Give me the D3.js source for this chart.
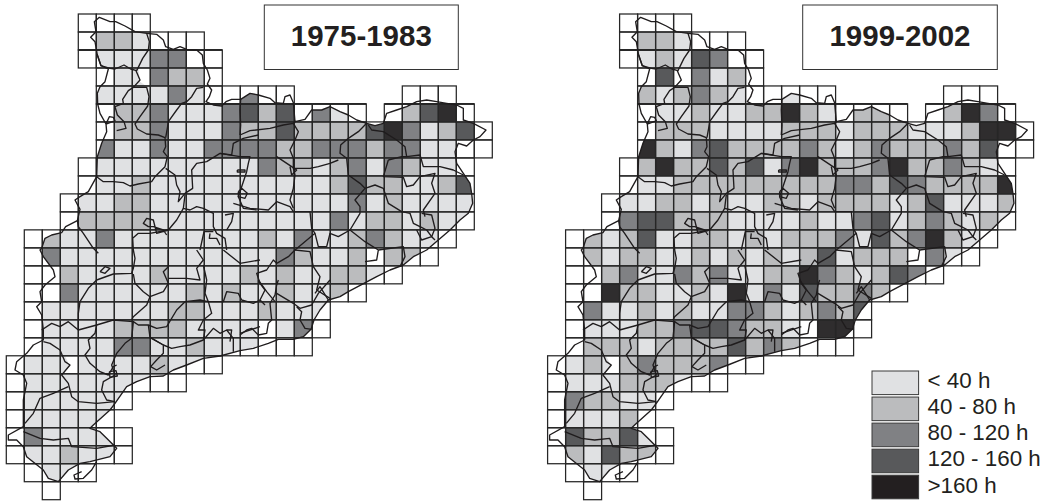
<!DOCTYPE html>
<html><head><meta charset="utf-8">
<style>html,body{margin:0;padding:0;background:#fff}svg{display:block}text{font-family:"Liberation Sans",Arial,sans-serif;fill:#231f20}</style>
<script src="https://cdnjs.cloudflare.com/ajax/libs/d3/7.8.5/d3.min.js"></script>
</head><body><svg id="c" width="1053" height="502"></svg>
<script>
const legendLabels=["< 40 h","40 - 80 h","80 - 120 h","120 - 160 h",">160 h"];
const classColors=["#ffffff","#e0e1e3","#bbbcbe","#808184","#58595b","#2f2d2e"];
const legendColors=["#e0e1e3","#bbbcbe","#808184","#58595b","#231f20"];
const titles=["1975-1983","1999-2002"];
const heavyRows=[2,5];
// grid rows: [first column, class per cell] ('.' = no cell, 0 = no data)
const rows1975=[[4,"0000"],[4,"0221000"],[4,"01113300"],[5,"0113220"],[5,"11113100300......000"],[5,"022311134240310.02450"],[5,"0223111322422224531240"],[5,"3113113333223332331100"],[4,"0111111111322123132110"],[4,"0112111111111124221124"],[3,"01122111111111113121111"],[3,"02222111111111131221211"],[1,"021131111111121311232110"],[1,"03111111111111321120220"],[1,"002111121111212112210"],[1,"0031111112121121120"],[1,"01111111221112111"],[1,"01111222211110130"],[1,"0111133112111000"],[0,"011111112110"],[0,"0111111100"],[0,"0111111"],[0,"011111"],[0,"0311110"],[0,"0112110"],[1,"0111"],[2,"0"]];
const rows1999=[[4,"0000"],[4,"0221000"],[4,"01214300"],[5,"0403120"],[5,"21232100100......000"],[5,"011211225210220.02530"],[5,"0222111122212221112550"],[5,"5213422223212322232400"],[4,"0252242413522235223210"],[4,"0112222222223324322225"],[3,"01122121122122221241112"],[3,"03442221111211341232121"],[1,"021241122121222314235210"],[1,"02122112121212412220310"],[1,"002311323112253212430"],[1,"0052211215131422320"],[1,"03112121133212324"],[1,"01112234432210550"],[1,"0222122224232000"],[0,"012123222300"],[0,"0111222100"],[0,"0322110"],[0,"011120"],[0,"0422410"],[0,"0214220"],[1,"0110"],[2,"0"]];
// boundaries traced in sheets (units: third of a pixel; each sheet has an origin)
const sheetNW=[0,0], sheetNE=[750,180], sheetS=[0,750], sheetSE=[720,840];
const coastNW=[[125,745],[135,715],[155,705],[185,698],[197,680],[232,662],[240,628],[225,600],[240,590],[265,575],[290,530],[292,470],[305,430],[320,395],[318,372],[300,340],[293,312],[292,280],[300,260],[315,245],[325,207],[303,197],[292,165],[285,125],[272,112],[288,95],[283,65],[298,52],[330,65],[347,65],[375,78],[405,95],[440,100],[470,103],[490,120],[497,140],[520,148],[540,140],[560,148],[590,150],[607,165],[610,190],[622,210],[630,235],[622,252],[635,270],[628,290],[618,305],[640,315],[665,318],[678,305],[695,298],[722,298]];
const coastNE=[[0,100],[25,105],[60,115],[75,128],[100,130],[105,110],[120,105],[130,128],[135,185],[165,178],[185,150],[215,150],[240,140],[270,155],[295,165],[320,180],[350,190],[375,197],[400,190],[410,160],[440,150],[470,140],[500,125],[530,120],[560,125],[590,130],[620,135],[640,145],[640,180],[670,190],[708,210],[690,230],[670,240],[650,258],[625,250],[615,275],[620,310],[640,340],[660,370],[665,400],[668,430],[655,460],[630,480],[600,510],[565,540],[530,570],[490,590],[460,615],[420,630],[380,650]];
const coastSE=[[325,35],[300,50],[265,60],[240,90],[222,120],[213,148],[190,170],[160,178],[115,178],[85,190],[40,205],[0,212]];
const coastS=[[660,318],[610,325],[560,345],[520,360],[490,378],[450,380],[410,395],[380,410],[345,460],[330,480],[280,525],[270,535],[300,545],[320,565],[350,595],[330,620],[270,635],[240,640],[205,660],[175,695],[145,685],[130,660],[80,620],[70,590],[50,570],[25,570],[25,555],[70,530],[70,500],[70,450],[80,400],[70,375],[45,360],[50,335],[80,310],[100,285],[130,270],[130,240],[125,195],[110,170],[125,155],[120,125],[135,105],[165,80],[160,60],[130,20],[120,0]];
const holesNW=[[[415,204],[451,204],[451,259],[440,259],[420,245]]];
const holesS=[[[195,318],[235,318],[235,371],[185,371],[208,345]]];
const linesNW=[
[[292,165],[303,197],[330,205],[345,207],[372,195],[392,207],[410,212],[428,175],[445,150],[448,125],[440,100]],
[[408,212],[420,240],[400,262],[385,272],[368,298],[370,310],[345,320],[352,345],[372,365],[378,385],[350,392]],
[[318,372],[328,350],[340,352],[345,362],[330,368],[318,372]],
[[400,262],[440,262],[447,290],[443,318],[420,350],[405,372],[412,387],[440,402],[475,405],[495,413],[497,440],[490,455],[502,470],[495,500],[465,530],[455,545],[415,552],[390,558],[370,548],[340,545],[310,545],[290,530]],
[[610,262],[590,265],[575,290],[560,305],[545,310],[530,330],[505,365],[502,385],[497,413]],
[[497,505],[525,525],[530,555],[540,575],[535,605],[555,580],[578,565],[575,510],[590,490],[620,485],[660,460],[695,465],[700,430],[730,415],[775,405]],
[[722,298],[720,330],[722,375],[720,405]],
[[660,460],[720,470],[750,470],[745,490],[740,515],[735,530],[725,560],[715,590],[730,625],[770,630]],
[[712,510],[735,510],[735,516],[712,516],[712,510]],
[[715,575],[725,565],[742,580],[735,595],[715,590],[715,575]],
[[555,585],[550,625],[570,630],[590,620],[610,625],[640,640],[640,680],[650,700],[675,715],[680,750]],
[[675,645],[700,640],[695,665],[680,690]],
[[550,625],[530,660],[505,690],[470,700],[460,660],[440,655],[430,670],[445,680],[460,680],[490,690],[500,705]],
[[505,690],[450,700],[415,700],[398,715],[400,750]],
[[232,662],[235,680],[250,700],[280,745],[295,760]],
[[630,700],[628,715],[650,715],[660,735]],
[[600,750],[612,695],[640,695]]];
const linesNE=[
[[-30,225],[0,212],[60,205],[100,195],[130,190],[145,215],[135,240],[120,270],[130,295],[130,325],[135,345],[130,385],[120,420],[130,445]],
[[135,185],[130,190]],
[[135,325],[180,325],[205,320],[240,310],[265,300]],
[[350,190],[325,215],[295,235],[272,255],[270,280],[290,295],[295,345],[330,370],[345,385],[375,375],[400,385],[405,400],[415,430],[455,455],[480,460],[490,490],[510,500],[530,510],[545,530],[555,540]],
[[345,385],[315,420],[330,440],[330,460],[300,510],[345,545],[385,570],[380,600],[345,605]],
[[300,510],[265,530],[240,520],[230,560],[205,560],[195,520],[185,505],[180,455],[130,455],[120,440],[80,425],[55,450],[0,445],[-50,430]],
[[195,520],[135,570],[115,590],[80,610],[70,600],[50,630],[20,640],[30,670],[45,690],[30,720],[45,735]],
[[135,570],[180,575],[190,620],[210,650],[200,690],[240,715]],
[[415,300],[400,350],[460,352],[470,380],[490,375],[510,350],[555,340],[545,370],[555,400],[520,450],[525,470]],
[[355,195],[365,210],[400,215],[440,240],[465,260],[470,290],[510,285],[520,320],[570,320],[610,330],[640,345]],
[[415,300],[455,290],[470,290]],
[[515,460],[545,465],[555,505],[545,530],[515,540],[500,510]],
[[385,570],[460,560],[465,590],[450,620]],
[[80,290],[125,320],[140,330],[125,345],[120,320]]];
const linesS=[
[[290,90],[340,72],[395,70],[400,55],[405,25],[400,0]],
[[300,65],[315,50],[330,55],[315,70],[300,65]],
[[400,72],[405,100],[430,125],[450,140],[440,165],[400,200],[395,210]],
[[290,90],[265,115],[240,155],[235,190],[235,240]],
[[125,240],[155,220],[180,230],[205,215],[235,240],[290,225],[340,210],[400,215],[415,225],[445,225],[470,235],[500,230],[530,180],[555,155],[600,150],[625,155],[670,155],[680,125],[715,130],[725,150],[760,160],[780,150]],
[[290,225],[285,250],[265,270],[270,295],[255,315],[270,340],[300,365],[325,375],[340,350],[350,345]],
[[400,215],[395,265],[375,280],[350,310],[335,345],[345,375],[310,395],[305,420],[320,450],[345,455]],
[[328,365],[348,362],[352,378],[330,382],[328,365]],
[[130,275],[150,280],[180,300],[195,335],[210,345],[185,375],[205,400],[215,440],[235,455],[290,460],[345,455]],
[[75,520],[100,490],[120,445],[160,430],[205,410]],
[[70,545],[120,565],[160,570],[205,565],[215,590],[290,595],[345,585]],
[[445,225],[450,262],[490,285],[490,310],[470,330],[452,350],[470,360],[495,345]],
[[450,262],[490,285],[515,295],[540,290],[570,285],[610,270],[615,240],[595,240],[610,210],[635,190],[625,155]],
[[505,0],[505,50],[490,65],[505,100],[490,125],[450,140]],
[[505,85],[560,85],[600,90],[590,55],[610,30],[590,0]],
[[610,45],[620,90],[615,130],[625,155]],
[[610,270],[640,235],[660,250],[680,240],[700,265],[700,305]],
[[680,240],[695,240],[690,275]],
[[670,0],[720,40],[780,30]],
[[720,250],[780,230]],
[[245,665],[222,675],[225,687],[250,685],[275,660],[290,635]]];
const linesSE=[
[[0,165],[20,150],[35,145],[55,165],[80,160],[85,130],[95,120],[90,70],[105,45],[110,15],[115,0]],
[[110,40],[160,70],[180,85],[215,75],[235,40],[270,0]],
[[170,80],[185,95],[180,120],[195,145],[215,148]],
[[55,0],[80,35],[105,65]],
[[225,40],[240,20],[265,60]]];

const svg=d3.select("#c");
const col=d3.scaleLinear().domain([0,28]).range([6.3,510.3]);
const row=d3.scaleLinear().domain([0,27]).range([14,499.7]);
const color=d3.scaleOrdinal().domain([0,1,2,3,4,5]).range(classColors);
const place=(pts,o)=>pts.map(p=>[p[0]+o[0],p[1]+o[1]]);
const outline=[...place(coastNW,sheetNW),...place(coastNE,sheetNE),...place(coastSE,sheetSE),...place(coastS,sheetS)];
const holes=[...holesNW.map(h=>place(h,sheetNW)),...holesS.map(h=>place(h,sheetS))];
const lines=[...linesNW.map(l=>place(l,sheetNW)),...linesNE.map(l=>place(l,sheetNE)),...linesS.map(l=>place(l,sheetS)),...linesSE.map(l=>place(l,sheetSE))];
const ux=d3.scaleLinear().domain([0,3]).range([0,1]);
const uy=d3.scaleLinear().domain([0,3]).range([0,1]);
const line=d3.line().x(d=>ux(d[0])).y(d=>uy(d[1]));

[[rows1975,0],[rows1999,541.3]].forEach(([rows,dx],m)=>{
  const g=svg.append("g").attr("transform",`translate(${dx},0)`);
  g.append("clipPath").attr("id","land"+m).append("path")
    .attr("clip-rule","evenodd")
    .attr("d",line(outline)+"Z"+holes.map(h=>line(h)+"Z").join(""));
  const cells=[];
  rows.forEach(([start,s],j)=>{[...s].forEach((ch,k)=>{if(ch!==".")cells.push({i:start+k,j,v:+ch});});});
  g.append("g").attr("clip-path",`url(#land${m})`).selectAll("rect").data(cells.filter(c=>c.v>0)).join("rect")
    .attr("x",d=>col(d.i)).attr("y",d=>row(d.j))
    .attr("width",col(1)-col(0)).attr("height",row(1)-row(0))
    .attr("fill",d=>color(d.v));
  g.append("g").selectAll("rect").data(cells).join("rect")
    .attr("x",d=>col(d.i)).attr("y",d=>row(d.j))
    .attr("width",col(1)-col(0)).attr("height",row(1)-row(0))
    .attr("fill","none").attr("stroke","#262626").attr("stroke-width",1.25);
  g.append("g").selectAll("line").data(cells.filter(c=>heavyRows.includes(c.j))).join("line")
    .attr("x1",d=>col(d.i)).attr("x2",d=>col(d.i+1)).attr("y1",d=>row(d.j)).attr("y2",d=>row(d.j))
    .attr("stroke","#262626").attr("stroke-width",1.9);
  g.append("path").attr("d",line(outline)+"Z").attr("fill","none").attr("stroke","#1f1c1d").attr("stroke-width",1.35).attr("stroke-linejoin","round");
  g.append("g").selectAll("path").data(lines).join("path").attr("d",line)
    .attr("fill","none").attr("stroke","#1f1c1d").attr("stroke-width",1.35).attr("stroke-linejoin","round");
});

const boxes=[[264.3,194],[802.7,194.6]];
titles.forEach((t,i)=>{
  svg.append("rect").attr("x",boxes[i][0]).attr("y",5).attr("width",boxes[i][1]).attr("height",64.5)
    .attr("fill","#fff").attr("stroke","#333").attr("stroke-width",1);
  svg.append("text").attr("x",boxes[i][0]+boxes[i][1]/2).attr("y",46).attr("text-anchor","middle")
    .attr("font-size",29.5).attr("font-weight","bold").text(t);
});
const legY=d3.scaleLinear().domain([0,4]).range([371,475.2]);
const leg=svg.append("g");
legendLabels.forEach((t,i)=>{
  leg.append("rect").attr("x",872).attr("y",legY(i)).attr("width",46.6).attr("height",23.6)
    .attr("fill",legendColors[i]).attr("stroke","#3a3a3a").attr("stroke-width",1);
  leg.append("text").attr("x",927.5).attr("y",legY(i)+17.3).attr("font-size",22.4).text(t);
});
</script></body></html>
